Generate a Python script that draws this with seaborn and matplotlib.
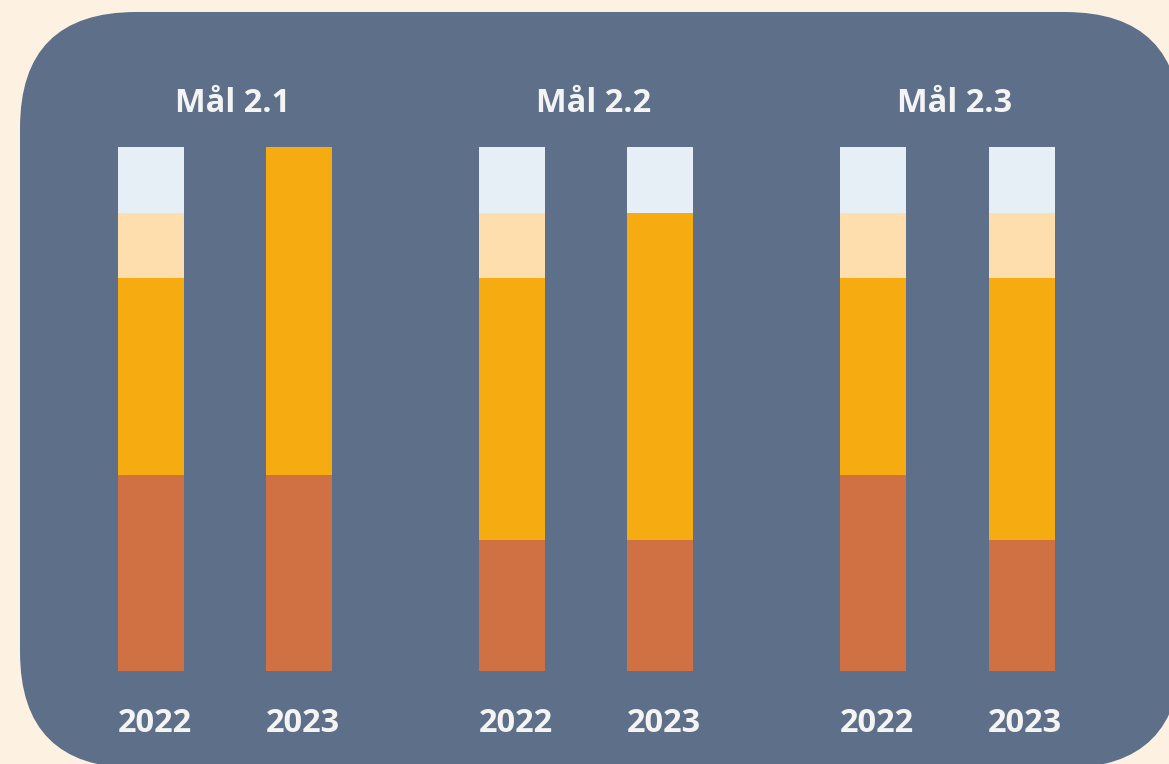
import pandas as pd
import seaborn as sns
import matplotlib.pyplot as plt
from matplotlib.patches import FancyBboxPatch

# data (units, each bar totals 8)
goals = ["Mål 2.1", "Mål 2.2", "Mål 2.3"]
years = ["2022", "2023"]
brown = [3, 3, 2, 2, 3, 2]
orange = [3, 5, 4, 5, 3, 4]
peach = [1, 0, 1, 0, 1, 1]
light = [1, 0, 1, 1, 1, 1]

df = pd.DataFrame({
    "goal": [g for g in goals for _ in years],
    "year": years * len(goals),
    "brown": brown, "orange": orange, "peach": peach, "light": light,
})
# cumulative tops, drawn back to front
df["c1"] = df["brown"]
df["c2"] = df["c1"] + df["orange"]
df["c3"] = df["c2"] + df["peach"]
df["c4"] = df["c3"] + df["light"]

cream = "#FDF1E1"
slate = "#5E7089"
colors = {"c4": "#E6EEF6", "c3": "#FEDEAC", "c2": "#F6AB10", "c1": "#CF7142"}

fig = plt.figure(figsize=(11.69, 7.64), dpi=100)
fig.patch.set_facecolor(cream)

# rounded panel in pixel space
bg = fig.add_axes([0, 0, 1, 1])
bg.set_xlim(0, 1169)
bg.set_ylim(764, 0)
bg.axis("off")
bg.add_patch(FancyBboxPatch((20, 12), 1161, 756, boxstyle="round,pad=0,rounding_size=116",
                            facecolor=slate, edgecolor="none"))

ax = fig.add_axes([0, 0, 1, 1])
ax.patch.set_alpha(0)
for col in ["c4", "c3", "c2", "c1"]:
    sns.barplot(data=df, x="goal", y=col, hue="year", order=goals, hue_order=years,
                palette=[colors[col]] * 2, saturation=1, width=0.82, gap=0.555, dodge=True,
                legend=False, ax=ax, linewidth=0, errorbar=None)

px = 361.25
ax.set_xlim(-225 / px, (1169 - 225) / px)
py = 65.5
ax.set_ylim(-(764 - 671) / py, 8 + 147 / py)
ax.axis("off")

font = {"family": ["Open Sans", "DejaVu Sans"], "weight": "bold", "color": "#F4F4F4"}
for i, g in enumerate(goals):
    ax.text(i + 0.02, 8 + (147 - 104) / py, g, ha="center", va="center", fontsize=23.5, **font)
    for j, y in enumerate(years):
        ax.text(i + (j - 0.5) * 0.41 + 0.01, -(723 - 671) / py, y, ha="center", va="center",
                fontsize=23.5, **font)

fig.savefig("out.png", dpi=100, facecolor=cream)
